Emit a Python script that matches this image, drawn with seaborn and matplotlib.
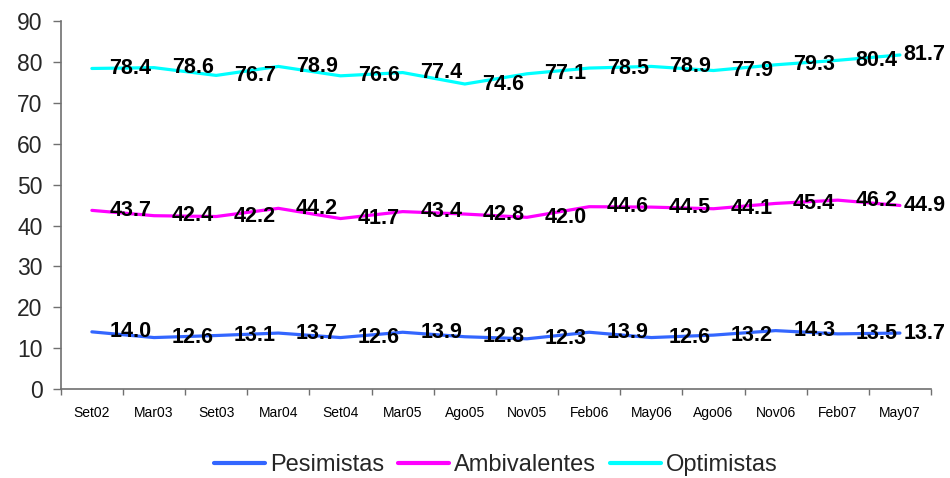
import pandas as pd
import matplotlib.pyplot as plt
import seaborn as sns
import numpy as np

# Periods and series values
periods = ["Set02", "Mar03", "Set03", "Mar04", "Set04", "Mar05", "Ago05",
           "Nov05", "Feb06", "May06", "Ago06", "Nov06", "Feb07", "May07"]
pesimistas = [14.0, 12.6, 13.1, 13.7, 12.6, 13.9, 12.8, 12.3, 13.9, 12.6, 13.2, 14.3, 13.5, 13.7]
ambivalentes = [43.7, 42.4, 42.2, 44.2, 41.7, 43.4, 42.8, 42.0, 44.6, 44.5, 44.1, 45.4, 46.2, 44.9]
optimistas = [78.4, 78.6, 76.7, 78.9, 76.6, 77.4, 74.6, 77.1, 78.5, 78.9, 77.9, 79.3, 80.4, 81.7]

series_names = ["Pesimistas", "Ambivalentes", "Optimistas"]
colors = ["#3366FF", "#FF00FF", "#00FFFF"]

# Long-form table for seaborn
rows = []
for name, vals in zip(series_names, [pesimistas, ambivalentes, optimistas]):
    for i, (p, v) in enumerate(zip(periods, vals)):
        rows.append({"pos": i, "period": p, "value": v, "serie": name})
data = pd.DataFrame(rows)

sns.set_style("white")
plt.rcParams['font.family'] = ['Liberation Sans', 'DejaVu Sans']

fig = plt.figure(figsize=(9.5, 4.78), dpi=100)
ax = fig.add_axes([0.064, 0.186, 0.916, 0.770])

sns.lineplot(data=data, x="pos", y="value", hue="serie", palette=colors,
             hue_order=series_names, linewidth=2.3, ax=ax, legend=False)

# Data labels to the right of each point
n = len(periods)
for name, vals in zip(series_names, [pesimistas, ambivalentes, optimistas]):
    for i, v in enumerate(vals):
        dx = 0.62 if i < n - 1 else 0.4
        ax.text(i + dx, v, f"{v:.1f}", ha="center", va="center",
                fontsize=15.5, fontweight="bold", color="black")

ax.set_xlim(-0.5, n - 0.5)
ax.set_ylim(0, 90)
ax.set_yticks(range(0, 91, 10))
ax.set_xticks(range(n))
ax.set_xticklabels(periods, fontsize=10)
ax.set_xticks(np.arange(-0.5, n, 1.0), minor=True)
ax.tick_params(axis="x", which="major", length=0, pad=12, colors="black")
ax.tick_params(axis="x", which="minor", length=4, color="#707070", width=1, bottom=True)
ax.tick_params(axis="y", length=6, color="#707070", width=1, labelsize=16.5, left=True, pad=7)
ax.set_xlabel("")
ax.set_ylabel("")

for side in ["top", "right"]:
    ax.spines[side].set_visible(False)
for side in ["left", "bottom"]:
    ax.spines[side].set_color("#707070")
    ax.spines[side].set_linewidth(1.2)

handles = [plt.Line2D([0], [0], color=c, linewidth=3) for c in colors]
fig.legend(handles, series_names, loc="center", bbox_to_anchor=(0.522, 0.027),
           ncol=3, frameon=False, fontsize=17, handlelength=2.15,
           handletextpad=0.22, columnspacing=0.6)

plt.savefig("out.png", dpi=100)
plt.close()
